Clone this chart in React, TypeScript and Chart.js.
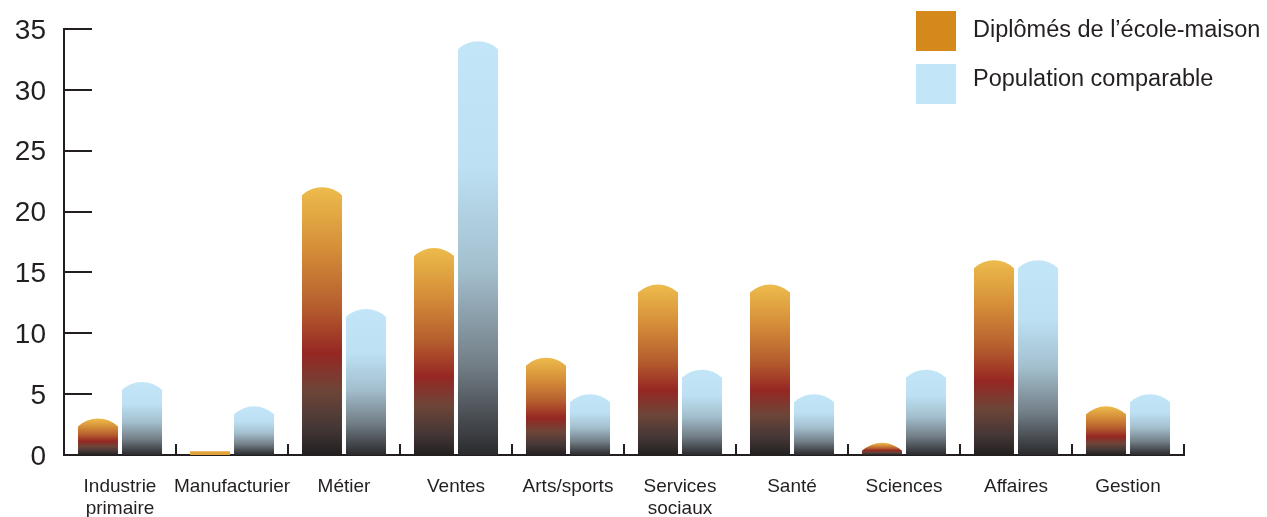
import { useEffect, useRef } from 'react';
import { Chart, registerables } from 'chart.js';

Chart.register(...registerables);

// Occupational fields, in percent of each group
const categories: (string | string[])[] = [
  ['Industrie', 'primaire'],
  'Manufacturier',
  'Métier',
  'Ventes',
  'Arts/sports',
  ['Services', 'sociaux'],
  'Santé',
  'Sciences',
  'Affaires',
  'Gestion',
];
const seriesNames = ['Diplômés de l’école-maison', 'Population comparable'];
const homeschoolGrads = [3, 0.3, 22, 17, 8, 14, 14, 1, 16, 4];
const comparablePop = [6, 4, 12, 34, 5, 7, 5, 7, 16, 5];
const yTicks = [0, 5, 10, 15, 20, 25, 30, 35];

const INK = '#231F20';
const FONT = '"Liberation Sans", Arial, Helvetica, sans-serif';
const legendColors = ['#D4891A', '#C2E6F8'];
const flatColors = ['#E2A43A', '#C2E6F8'];

const orangeStops: [number, string][] = [
  [0, '#EDBB4C'],
  [0.22, '#D69039'],
  [0.45, '#B55D2E'],
  [0.62, '#962723'],
  [0.76, '#6E4538'],
  [0.9, '#443736'],
  [1, '#231F20'],
];
const blueStops: [number, string][] = [
  [0, '#C2E6F8'],
  [0.3, '#BDE1F3'],
  [0.55, '#A3BFCE'],
  [0.78, '#737F87'],
  [1, '#2A2A2D'],
];

// Bars with a shallow circular dome on top and a vertical gradient
const domeBars = {
  id: 'domeBars',
  afterDatasetsDraw(chart: any) {
    const ctx: CanvasRenderingContext2D = chart.ctx;
    chart.data.datasets.forEach((_ds: any, di: number) => {
      const meta = chart.getDatasetMeta(di);
      const stops = di === 0 ? orangeStops : blueStops;
      meta.data.forEach((el: any) => {
        const { x, y, base, width } = el.getProps(['x', 'y', 'base', 'width'], true);
        const left = x - width / 2;
        const right = x + width / 2;
        const h = base - y;
        ctx.save();
        ctx.beginPath();
        if (h < 6) {
          ctx.rect(left, y, width, h);
          ctx.fillStyle = flatColors[di];
        } else {
          const d = Math.min(8, h);
          const r = width / 2;
          const R = (r * r + d * d) / (2 * d);
          const cy = y + R;
          const a0 = Math.atan2(y + d - cy, left - x);
          const a1 = Math.atan2(y + d - cy, right - x);
          ctx.moveTo(left, base);
          ctx.lineTo(left, y + d);
          ctx.arc(x, cy, R, a0, a1, false);
          ctx.lineTo(right, base);
          ctx.closePath();
          const g = ctx.createLinearGradient(0, y, 0, base);
          stops.forEach(([o, c]) => g.addColorStop(o, c));
          ctx.fillStyle = g;
        }
        ctx.fill();
        ctx.restore();
      });
    });
  },
};

// Inward ticks on the value axis and boundary ticks on the category axis
const axisMarks = {
  id: 'axisMarks',
  afterDraw(chart: any) {
    const ctx: CanvasRenderingContext2D = chart.ctx;
    const { left, bottom } = chart.chartArea;
    const ys = chart.scales.y;
    const xs = chart.scales.x;
    ctx.save();
    ctx.strokeStyle = INK;
    ctx.lineWidth = 2;
    ctx.beginPath();
    yTicks.forEach((v) => {
      if (v === 0) return;
      const py = Math.round(ys.getPixelForValue(v));
      ctx.moveTo(left, py);
      ctx.lineTo(left + 28, py);
    });
    for (let i = 0; i < categories.length; i++) {
      const px = Math.round(xs.getPixelForValue(i + 0.5));
      ctx.moveTo(px, bottom - 11);
      ctx.lineTo(px, bottom);
    }
    ctx.stroke();
    ctx.restore();
  },
};

// Legend in the top-right corner
const cornerLegend = {
  id: 'cornerLegend',
  afterDraw(chart: any) {
    const ctx: CanvasRenderingContext2D = chart.ctx;
    ctx.save();
    ctx.font = `23.5px ${FONT}`;
    ctx.textBaseline = 'middle';
    ctx.textAlign = 'left';
    seriesNames.forEach((name, i) => {
      const top = 11 + i * 53;
      ctx.fillStyle = legendColors[i];
      ctx.fillRect(916, top, 40, 40);
      ctx.fillStyle = INK;
      ctx.fillText(name, 973, top + 20 - i * 4);
    });
    ctx.restore();
  },
};

export default function App() {
  const ref = useRef<HTMLCanvasElement>(null);

  useEffect(() => {
    document.body.style.margin = '0';
    const chart = new Chart(ref.current!, {
      type: 'bar',
      data: {
        labels: categories,
        datasets: [
          {
            label: seriesNames[0],
            data: homeschoolGrads,
            backgroundColor: 'rgba(0,0,0,0)',
            borderWidth: 0,
            barPercentage: 0.909,
            categoryPercentage: 0.786,
          },
          {
            label: seriesNames[1],
            data: comparablePop,
            backgroundColor: 'rgba(0,0,0,0)',
            borderWidth: 0,
            barPercentage: 0.909,
            categoryPercentage: 0.786,
          },
        ],
      },
      options: {
        responsive: false,
        animation: false,
        devicePixelRatio: 1,
        layout: { padding: { top: 29, right: 83, left: 0, bottom: 0 } },
        plugins: {
          legend: { display: false },
          tooltip: { enabled: false },
        },
        scales: {
          x: {
            grid: { display: false, drawTicks: false },
            border: { display: true, color: INK, width: 2 },
            ticks: {
              color: INK,
              font: { family: FONT, size: 19, lineHeight: 1.16 },
              padding: 21,
              maxRotation: 0,
              autoSkip: false,
            },
            afterFit: (s: any) => {
              s.height = 62;
            },
          },
          y: {
            min: yTicks[0],
            max: yTicks[yTicks.length - 1],
            ticks: {
              stepSize: 5,
              color: INK,
              font: { family: FONT, size: 28 },
              padding: 18,
              labelOffset: 2,
            },
            grid: { display: false, drawTicks: false },
            border: { display: true, color: INK, width: 2 },
            afterFit: (s: any) => {
              s.width = 64;
              s.paddingTop = 0;
              s.paddingBottom = 0;
            },
          },
        },
      },
      plugins: [domeBars, axisMarks, cornerLegend],
    });
    return () => chart.destroy();
  }, []);

  return (
    <div style={{ width: 1267, height: 517, position: 'relative' }}>
      <canvas ref={ref} width={1267} height={517} style={{ display: 'block', width: 1267, height: 517 }} />
    </div>
  );
}
